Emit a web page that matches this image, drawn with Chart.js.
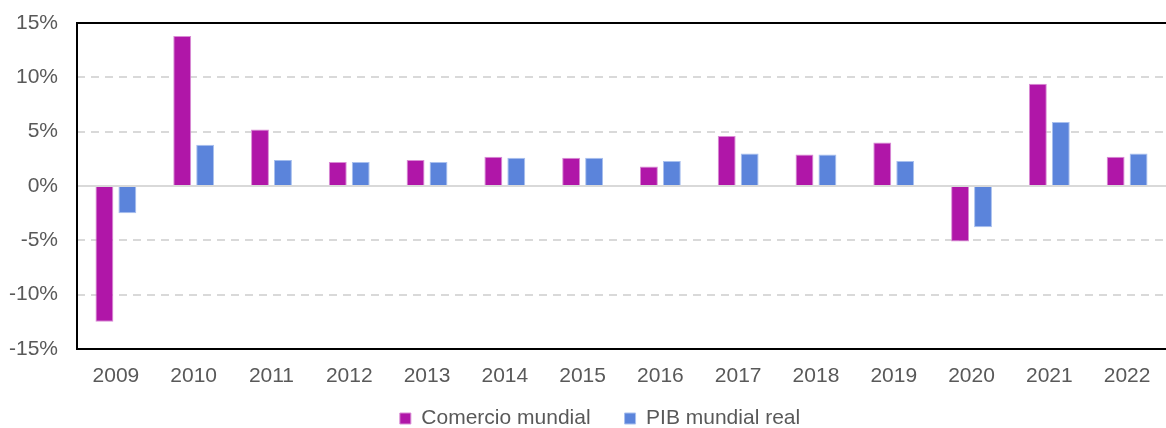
<!DOCTYPE html>
<html>
<head>
<meta charset="utf-8">
<script src="https://cdn.jsdelivr.net/npm/chart.js@4"></script>
<style>
  body { margin: 0; background: #fff; }
  #wrap { width: 1166px; height: 428px; }
</style>
</head>
<body>
<div id="wrap"><canvas id="chart" width="1166" height="428"></canvas></div>
<script>
const years = ["2009","2010","2011","2012","2013","2014","2015","2016","2017","2018","2019","2020","2021","2022"];
const comercio = [-12.5, 13.8, 5.2, 2.2, 2.4, 2.7, 2.6, 1.8, 4.6, 2.9, 4.0, -5.1, 9.4, 2.7];
const pib = [-2.5, 3.8, 2.4, 2.2, 2.2, 2.6, 2.6, 2.3, 3.0, 2.9, 2.3, -3.8, 5.9, 3.0];

const textColor = "#595959";
const fontFam = "Liberation Sans";

// frame + solid zero line, and legend tweaks
const framePlugin = {
  id: "frame",
  afterInit(chart) {
    // keep the wide legend item gap without a tall legend box
    const leg = chart.legend;
    if (leg) {
      const fit = leg.fit.bind(leg);
      leg.fit = function () { fit(); this.height = 35; };
    }
  },
  afterLayout(chart) {
    const leg = chart.legend;
    if (leg) {
      leg.top -= 19;
      leg.left += 17; leg.right += 17;
    }
  },
  afterDatasetsDraw(chart) {
    const { ctx, chartArea: a, scales } = chart;
    ctx.save();
    const y0 = scales.y.getPixelForValue(0);
    ctx.strokeStyle = "#d9d9d9";
    ctx.lineWidth = 2;
    ctx.beginPath();
    ctx.moveTo(a.left, y0);
    ctx.lineTo(a.right, y0);
    ctx.stroke();
    ctx.strokeStyle = "#000";
    ctx.lineWidth = 2;
    ctx.beginPath();
    ctx.moveTo(a.right + 2, a.top);
    ctx.lineTo(a.left, a.top);
    ctx.lineTo(a.left, a.bottom);
    ctx.lineTo(a.right + 2, a.bottom);
    ctx.stroke();
    ctx.restore();
  }
};

new Chart(document.getElementById("chart"), {
  type: "bar",
  data: {
    labels: years,
    datasets: [
      {
        label: "Comercio mundial",
        data: comercio,
        backgroundColor: "#b016a8",
        borderColor: "#d98cd4",
        borderWidth: 1
      },
      {
        label: "PIB mundial real",
        data: pib,
        backgroundColor: "#5b84db",
        borderColor: "#a9c0ee",
        borderWidth: 1
      }
    ]
  },
  options: {
    responsive: false,
    animation: false,
    categoryPercentage: 0.59,
    barPercentage: 0.78,
    layout: { padding: { top: 23, right: 0, bottom: 0, left: 0 } },
    plugins: {
      tooltip: { enabled: false },
      legend: {
        position: "bottom",
        labels: {
          color: textColor,
          font: { family: fontFam, size: 21 },
          boxWidth: 11,
          boxHeight: 11,
          padding: 34
        }
      }
    },
    scales: {
      x: {
        grid: { display: false, drawTicks: false },
        border: { display: false },
        ticks: {
          color: textColor,
          font: { family: fontFam, size: 21 },
          padding: 15
        },
        afterFit(scale) { scale.height = 44; }
      },
      y: {
        min: -15,
        max: 15,
        border: { display: false, dash: [8, 6] },
        grid: {
          color: ctx => (ctx.tick.value === 0 || Math.abs(ctx.tick.value) === 15) ? "rgba(0,0,0,0)" : "#d9d9d9",
          lineWidth: 2,
          drawTicks: false
        },
        ticks: {
          stepSize: 5,
          color: textColor,
          font: { family: fontFam, size: 21 },
          padding: 19,
          callback: v => v + "%"
        },
        afterFit(scale) {
          scale.width = 77;
          scale.paddingTop = 0;
          scale.paddingBottom = 0;
        }
      }
    }
  },
  plugins: [framePlugin]
});
</script>
</body>
</html>
